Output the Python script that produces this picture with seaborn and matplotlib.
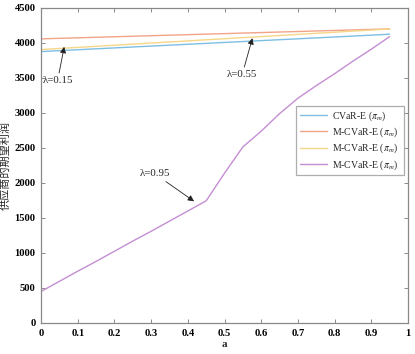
import numpy as np
import pandas as pd
import matplotlib
matplotlib.use("Agg")
import matplotlib.pyplot as plt
import seaborn as sns

a_vals = [0.0, 0.05, 0.1, 0.15, 0.2, 0.25, 0.3, 0.35, 0.4, 0.45,
          0.5, 0.55, 0.6, 0.65, 0.7, 0.75, 0.8, 0.85, 0.9, 0.95]
cvar_e = [3877, 3890, 3903, 3916, 3929, 3942, 3955, 3968, 3981, 3994,
          4007, 4020, 4033, 4046, 4059, 4072, 4085, 4098, 4111, 4125]
mcvar_015 = [4058, 4066, 4073, 4081, 4088, 4096, 4103, 4111, 4118, 4126,
             4133, 4141, 4148, 4156, 4163, 4171, 4178, 4186, 4193, 4201]
mcvar_055 = [3905, 3921, 3936, 3952, 3967, 3983, 3998, 4014, 4029, 4045,
             4060, 4076, 4091, 4107, 4122, 4138, 4153, 4169, 4184, 4200]
mcvar_095 = [450, 595, 740, 880, 1025, 1170, 1310, 1455, 1600, 1745,
             2140, 2515, 2740, 2990, 3210, 3390, 3560, 3740, 3910, 4090]

labels = [r"CVaR-E ($\pi_m$)", r"M-CVaR-E ($\pi_m$)",
          r"M-CVaR-E ($\pi_m$) ", r"M-CVaR-E ($\pi_m$)  "]
colors = ["#7DBFE3", "#F2A388", "#F6D688", "#C48ED2"]
series = [cvar_e, mcvar_015, mcvar_055, mcvar_095]

df = pd.concat([pd.DataFrame({"a": a_vals, "profit": s, "series": lab})
                for s, lab in zip(series, labels)], ignore_index=True)

sns.set_theme(style="white")
plt.rcParams["font.family"] = ["Liberation Serif", "DejaVu Serif"]
plt.rcParams["mathtext.fontset"] = "stix"

fig = plt.figure(figsize=(4.15, 3.54), dpi=100)
ax = fig.add_axes([0.099, 0.0876, 0.884, 0.89])

sns.lineplot(data=df, x="a", y="profit", hue="series", hue_order=labels,
             palette=dict(zip(labels, colors)), linewidth=1.0, ax=ax,
             estimator=None, sort=False)

ax.set_xlim(0, 1)
ax.set_ylim(0, 4500)
ax.set_xticks(np.arange(0, 1.01, 0.1))
ax.set_xticklabels(["0", "0.1", "0.2", "0.3", "0.4", "0.5", "0.6", "0.7", "0.8", "0.9", "1"])
ax.set_yticks(np.arange(0, 4501, 500))
ax.tick_params(direction="in", length=3, width=0.6, colors="#777777",
               labelcolor="black", labelsize=7.6, top=True, right=True,
               bottom=True, left=True, pad=4)
for lab in ax.get_xticklabels() + ax.get_yticklabels():
    lab.set_fontweight("bold")
for sp in ax.spines.values():
    sp.set_color("#888888")
    sp.set_linewidth(0.9)

ax.set_xlabel("a", fontsize=8, fontweight="bold", labelpad=2)
ax.set_ylabel("供应商的期望利润", fontsize=8,
              family=["Noto Sans CJK SC", "DejaVu Sans"], labelpad=3)

arrow = dict(arrowstyle="-|>", color="#222222", lw=0.6,
             mutation_scale=9, shrinkA=0, shrinkB=0)
ax.annotate("λ=0.15", xy=(0.063, 3944), xytext=(0.045, 3460),
            fontsize=7.8, ha="center", va="center", arrowprops=arrow)
ax.annotate("λ=0.55", xy=(0.576, 4068), xytext=(0.548, 3545),
            fontsize=7.8, ha="center", va="center", arrowprops=arrow)
ax.annotate("λ=0.95", xy=(0.417, 1738), xytext=(0.31, 2130),
            fontsize=7.8, ha="center", va="center", arrowprops=arrow)

leg = ax.legend(loc="upper right", bbox_to_anchor=(0.99, 0.69),
                fontsize=7, frameon=True, fancybox=False,
                handlelength=2.8, borderpad=0.35, labelspacing=0.3,
                handletextpad=0.5, borderaxespad=0)
leg.get_frame().set_edgecolor("#999999")
leg.get_frame().set_linewidth(0.9)

fig.savefig("out.png", dpi=100)
